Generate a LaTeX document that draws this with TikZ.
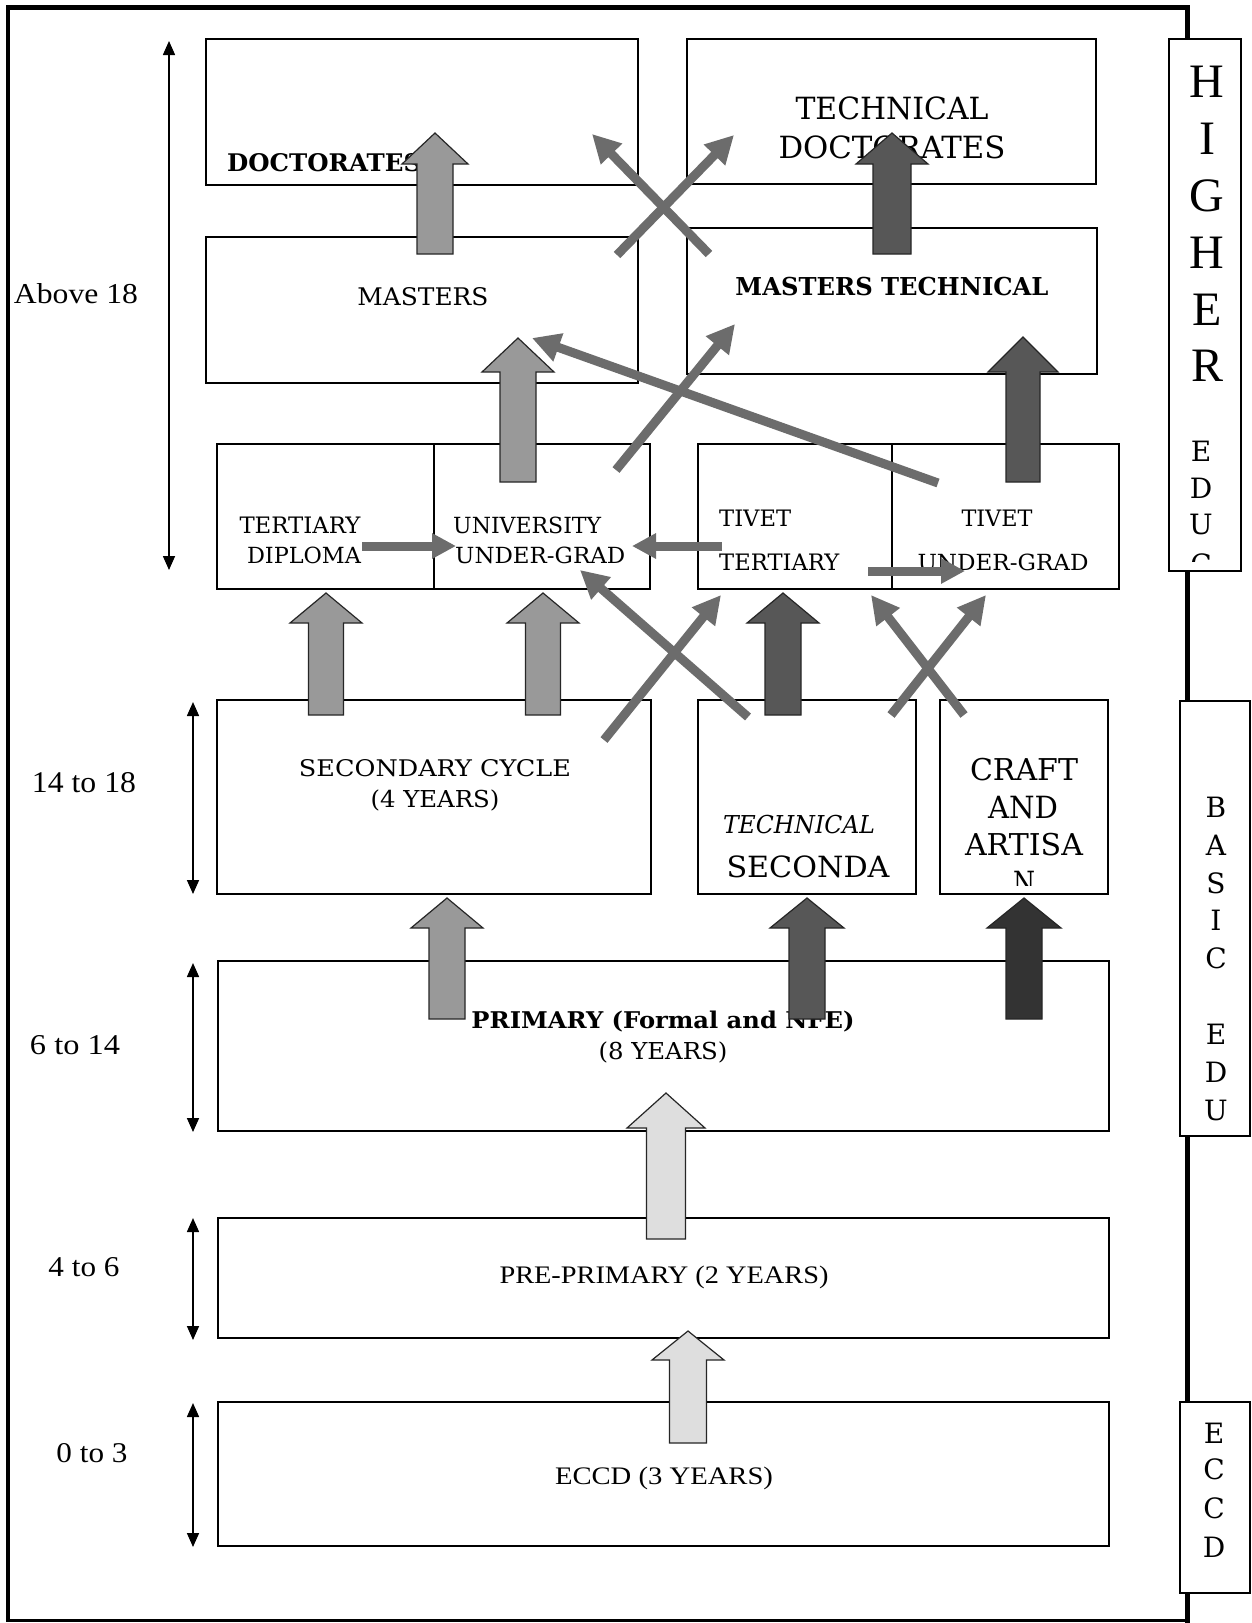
\documentclass[tikz,border=0pt]{standalone}
\usepackage{fontspec}
\setmainfont{DejaVu Serif}
\newfontfamily\tmfont{Liberation Serif}
\usetikzlibrary{arrows.meta}
\definecolor{gmed}{HTML}{999999}
\definecolor{gdark}{HTML}{575757}
\definecolor{gdarker}{HTML}{333333}
\definecolor{glight}{HTML}{DEDEDE}
\definecolor{gline}{HTML}{6C6C6C}
\newcommand\rb[3]{\resizebox{#1pt}{#2pt}{#3}}
\newcommand\mkbox[5]{\node[bx, minimum width={(#4-#2)*1pt}, minimum height={(#5-#3)*1pt}] (#1) at ({(#2+#4)/2},{(#3+#5)/2}) {};}
\newcommand\barrow[7]{\draw[fill=#7, draw=black!85, line width=1.2pt, line join=miter] ({#1-#5},#4) -- ({#1-#5},#3) -- ({#1-#6},#3) -- (#1,#2) -- ({#1+#6},#3) -- ({#1+#5},#3) -- ({#1+#5},#4) -- cycle;}
\begin{document}
\begin{tikzpicture}[x=1pt,y=-1pt,
  bx/.style={draw, line width=2pt, inner sep=0pt},
  sidebox/.style={draw, fill=white, line width=1.8pt},
  lbl/.style={inner sep=0pt, font=\fontsize{20}{24}\selectfont},
  bigl/.style={inner sep=0pt, font=\tmfont\fontsize{48}{48}\selectfont},
  smalll/.style={inner sep=0pt, font=\fontsize{28}{28}\selectfont},
  thinar/.style={draw=gline, line width=9pt, -{Triangle[length=28pt,width=28pt,fill=gline]}},
  thinh/.style={draw=gline, line width=9pt, -{Triangle[length=24pt,width=24pt,fill=gline]}},
  agear/.style={draw=black, line width=1.6pt, {Triangle[length=14pt,width=12pt]}-{Triangle[length=14pt,width=12pt]}}]
\useasboundingbox (0,0) rectangle (1252,1623);
\fill[white] (0,0) rectangle (1252,1623);
% outer frame
\draw[line width=4pt] (8,5) -- (8,1622);
\draw[line width=5pt] (6,7) -- (1189,7);
\draw[line width=5pt] (1187,5) -- (1187,1623);
\draw[line width=2.5pt] (8,1620.5) -- (1187,1620.5);
% side boxes
\draw[sidebox] (1169,39) rectangle (1241,571);
\foreach \l/\y [count=\i] in {H/82,I/139,G/196,H/253,E/310,R/366}
  \node[bigl] (hi\i) at (1207,\y) {\l};
\foreach \l/\y [count=\i] in {E/451,D/488,U/524}
  \node[smalll] (he\i) at (1201,\y) {\l};
\begin{scope}
\clip (1169,39) rectangle (1241,561);
\node[smalll] (hec) at (1201,564) {C};
\end{scope}
\draw[sidebox] (1180,701) rectangle (1250,1136);
\foreach \l/\y [count=\i] in {B/807,A/845,S/883,I/920,C/958,E/1034,D/1072,U/1110}
  \node[smalll] (ba\i) at (1216,\y) {\l};
\draw[sidebox] (1180,1402) rectangle (1250,1593);
\foreach \l/\y [count=\i] in {E/1433,C/1469,C/1508,D/1547}
  \node[smalll] (ec\i) at (1214,\y) {\l};
% main boxes
\mkbox{doc}{206}{39}{638}{185}
\mkbox{tdoc}{687}{39}{1096}{184}
\mkbox{mas}{206}{237}{638}{383}
\mkbox{mtech}{687}{228}{1097}{374}
\mkbox{tdip}{217}{444}{434}{589}
\mkbox{uug}{434}{444}{650}{589}
\mkbox{tter}{698}{444}{892}{589}
\mkbox{tug}{892}{444}{1119}{589}
\mkbox{sec}{217}{700}{651}{894}
\mkbox{tsec}{698}{700}{916}{894}
\mkbox{craft}{940}{700}{1108}{894}
\mkbox{prim}{218}{961}{1109}{1131}
\mkbox{pre}{218}{1218}{1109}{1338}
\mkbox{eccd}{218}{1402}{1109}{1546}
% texts
\node[lbl, anchor=west] (tx1) at (227,163) {\rb{194}{18}{\bfseries DOCTORATES}};
\node[lbl] (tx2) at (892,108) {\rb{193}{22.7}{TECHNICAL}};
\node[lbl] (tx3) at (892,147) {\rb{227}{22.7}{DOCTORATES}};
\node[lbl] (tx4) at (423,297) {\rb{131}{18}{MASTERS}};
\node[lbl] (tx5) at (892,287) {\rb{313}{18.3}{\bfseries MASTERS TECHNICAL}};
\node[lbl] (tx6) at (300,525) {\rb{121}{16.5}{TERTIARY}};
\node[lbl] (tx7) at (304,555) {\rb{114}{16.5}{DIPLOMA}};
\node[lbl, anchor=west] (tx8) at (453,525) {\rb{148}{16.5}{UNIVERSITY}};
\node[lbl, anchor=west] (tx9) at (455,555) {\rb{170}{16.5}{UNDER-GRAD}};
\node[lbl, anchor=west] (tx10) at (719,518) {\rb{72}{16.5}{TIVET}};
\node[lbl, anchor=west] (tx11) at (719,562) {\rb{120}{16.5}{TERTIARY}};
\node[lbl] (tx12) at (997,518) {\rb{71}{16.5}{TIVET}};
\node[lbl] (tx13) at (1003,562) {\rb{171}{16.5}{UNDER-GRAD}};
\node[lbl] (tx14) at (435,768) {\rb{272}{17}{SECONDARY CYCLE}};
\node[lbl] (tx15) at (435,800) {\rb{129}{17.7}{(4 YEARS)}};
\node[lbl] (tx16) at (799,825) {\rb{152}{18.3}{\itshape TECHNICAL}};
\node[lbl] (tx17) at (808,867) {\rb{163}{21.7}{SECONDA}};
\node[lbl] (tx18) at (1024,770) {\rb{108}{22.3}{CRAFT}};
\node[lbl] (tx19) at (1023,808) {\rb{70}{22.3}{AND}};
\node[lbl] (tx20) at (1024,845) {\rb{118}{22.3}{ARTISA}};
\begin{scope}
\clip (940,700) rectangle (1108,885);
\node[lbl] (tx21) at (1024,883) {\rb{22}{22.3}{N}};
\end{scope}
\node[lbl] (tx22) at (663,1022) {\rb{383}{17.5}{\bfseries PRIMARY (Formal and NFE)}};
\node[lbl] (tx23) at (663,1052) {\rb{129}{17.7}{(8 YEARS)}};
\node[lbl] (tx24) at (664,1277) {\rb{329}{17.5}{\tmfont PRE-PRIMARY (2 YEARS)}};
\node[lbl] (tx25) at (664,1478) {\rb{218}{17.5}{\tmfont ECCD (3 YEARS)}};
% age labels
\node[lbl] (ag1) at (76,294) {\rb{124}{20}{\tmfont Above 18}};
\node[lbl] (ag2) at (84,783) {\rb{104}{20}{\tmfont 14 to 18}};
\node[lbl] (ag3) at (75,1045) {\rb{90}{19}{\tmfont 6 to 14}};
\node[lbl] (ag4) at (84,1267) {\rb{71}{19}{\tmfont 4 to 6}};
\node[lbl] (ag5) at (92,1453) {\rb{71}{19}{\tmfont 0 to 3}};
% age arrows
\coordinate (a1t) at (169,41);  \coordinate (a1b) at (169,570);
\coordinate (a2t) at (193,702); \coordinate (a2b) at (193,894);
\coordinate (a3t) at (193,963); \coordinate (a3b) at (193,1132);
\coordinate (a4t) at (193,1218); \coordinate (a4b) at (193,1340);
\coordinate (a5t) at (193,1403); \coordinate (a5b) at (193,1547);
\draw[agear] (a1t) -- (a1b);
\draw[agear] (a2t) -- (a2b);
\draw[agear] (a3t) -- (a3b);
\draw[agear] (a4t) -- (a4b);
\draw[agear] (a5t) -- (a5b);
% block arrows
\barrow{435}{133}{164}{254}{18}{33}{gmed}
\barrow{892}{133}{164}{254}{19}{36}{gdark}
\barrow{518}{338}{372}{482}{18}{36}{gmed}
\barrow{1023}{337}{372}{482}{17}{35}{gdark}
\barrow{326}{593}{623}{715}{17.5}{36}{gmed}
\barrow{543}{593}{623}{715}{17.5}{36}{gmed}
\barrow{783}{593}{623}{715}{18}{36}{gdark}
\barrow{447}{898}{928}{1019}{18}{36}{gmed}
\barrow{807}{898}{928}{1019}{18}{37}{gdark}
\barrow{1024}{898}{928}{1019}{18}{37}{gdarker}
\barrow{666}{1093}{1128}{1239}{19.5}{39}{glight}
\barrow{688}{1331}{1360}{1443}{18.5}{36}{glight}
% thin arrows
\coordinate (ta1) at (709,254); \coordinate (ta2) at (592,134);
\coordinate (tb1) at (617,255); \coordinate (tb2) at (734,135);
\coordinate (tc1) at (616,470); \coordinate (tc2) at (735,324);
\coordinate (td1) at (938,483); \coordinate (td2) at (532,338);
\coordinate (te1) at (362,546); \coordinate (te2) at (456,546);
\coordinate (tf1) at (722,546); \coordinate (tf2) at (632,546);
\coordinate (tg1) at (868,571); \coordinate (tg2) at (965,571);
\coordinate (th1) at (604,740); \coordinate (th2) at (721,595);
\coordinate (ti1) at (748,717); \coordinate (ti2) at (580,570);
\coordinate (tj1) at (891,715); \coordinate (tj2) at (986,595);
\coordinate (tk1) at (964,715); \coordinate (tk2) at (871,595);
\draw[thinar] (ta1) -- (ta2);
\draw[thinar] (tb1) -- (tb2);
\draw[thinar] (tc1) -- (tc2);
\draw[thinar] (td1) -- (td2);
\draw[thinh] (te1) -- (te2);
\draw[thinh] (tf1) -- (tf2);
\draw[thinh] (tg1) -- (tg2);
\draw[thinar] (th1) -- (th2);
\draw[thinar] (ti1) -- (ti2);
\draw[thinar] (tj1) -- (tj2);
\draw[thinar] (tk1) -- (tk2);
\end{tikzpicture}
\end{document}
